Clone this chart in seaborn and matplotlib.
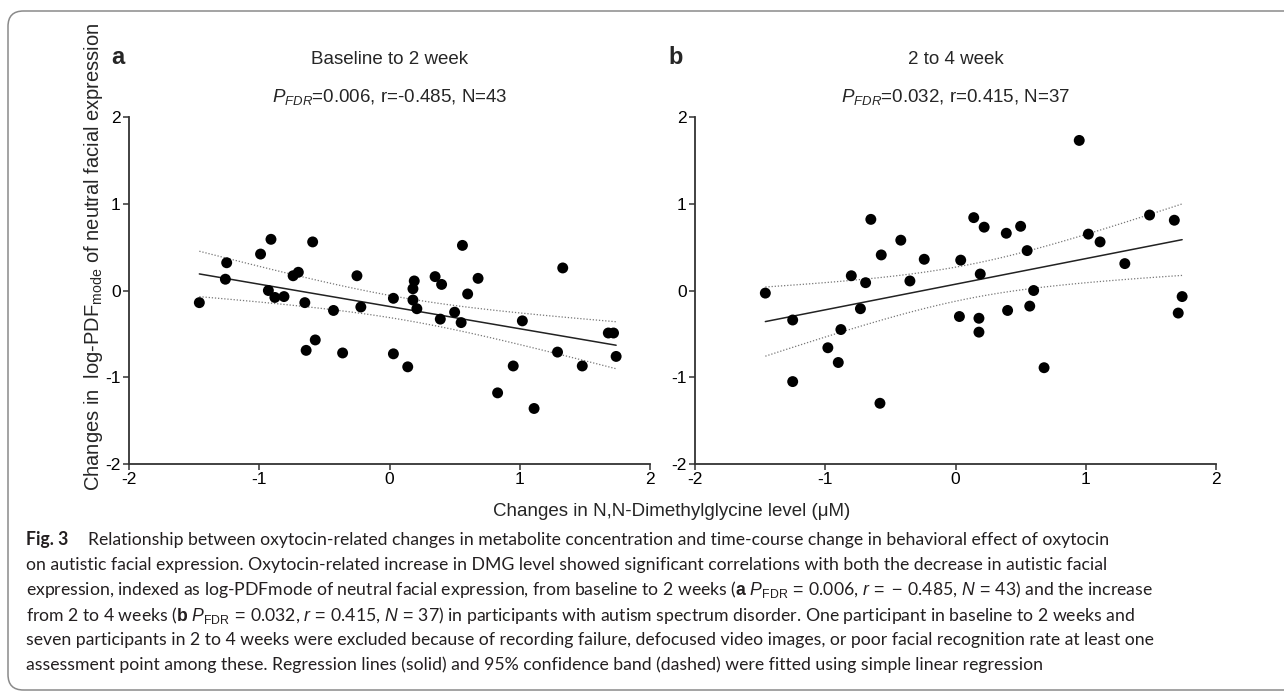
import numpy as np
import matplotlib
matplotlib.use("Agg")
import matplotlib.pyplot as plt
import seaborn as sns
from matplotlib import font_manager
from matplotlib.patches import FancyBboxPatch

# ============================================================
# 데이터
# ============================================================

x_a = [-1.46, -1.25, -1.26, -0.99, -0.91, -0.93, -0.88, -0.81, -0.74, -0.70,
       -0.59, -0.65, -0.64, -0.57, -0.43, -0.36, -0.25, -0.22, 0.03, 0.03,
       0.14, 0.19, 0.18, 0.18, 0.21, 0.35, 0.40, 0.39, 0.56, 0.60,
       0.68, 0.50, 0.55, 0.83, 0.95, 1.02, 1.11, 1.29, 1.33, 1.48,
       1.68, 1.72, 1.74]
y_a = [-0.14, 0.32, 0.13, 0.42, 0.59, 0.00, -0.08, -0.07, 0.17, 0.21,
       0.56, -0.14, -0.69, -0.57, -0.23, -0.72, 0.17, -0.19, -0.09, -0.73,
       -0.88, 0.11, 0.02, -0.11, -0.21, 0.16, 0.07, -0.33, 0.52, -0.04,
       0.14, -0.25, -0.37, -1.18, -0.87, -0.35, -1.36, -0.71, 0.26, -0.87,
       -0.49, -0.49, -0.76]

x_b = [-1.46, -1.25, -1.25, -0.98, -0.90, -0.88, -0.80, -0.73, -0.69, -0.65,
       -0.57, -0.58, -0.42, -0.35, -0.24, 0.04, 0.03, 0.14, 0.22, 0.19,
       0.18, 0.18, 0.39, 0.40, 0.50, 0.55, 0.57, 0.60, 0.68, 0.95,
       1.02, 1.11, 1.30, 1.49, 1.68, 1.71, 1.74]
y_b = [-0.03, -0.34, -1.05, -0.66, -0.83, -0.45, 0.17, -0.21, 0.09, 0.82,
       0.41, -1.30, 0.58, 0.11, 0.36, 0.35, -0.30, 0.84, 0.73, 0.19,
       -0.32, -0.48, 0.66, -0.23, 0.74, 0.46, -0.18, 0.00, -0.89, 1.73,
       0.65, 0.56, 0.31, 0.87, 0.81, -0.26, -0.07]

panel_letters = ["a", "b"]
panel_titles = ["Baseline to 2 week", "2 to 4 week"]
panel_stats = [r"$P_{FDR}$=0.006, r=-0.485, N=43", r"$P_{FDR}$=0.032, r=0.415, N=37"]
t_crit = [2.0195, 2.0301]  # t(0.975, n-2)

ticks = [-2, -1, 0, 1, 2]

x_label = "Changes in N,N-Dimethylglycine level (μM)"
y_label = r"Changes in  log-PDF$_{\mathrm{mode}}$ of neutral facial expression"

# ============================================================
# 기본 설정
# ============================================================

sns.set_theme(style="ticks")
plt.rcParams["font.family"] = ["Liberation Sans", "DejaVu Sans"]
plt.rcParams["axes.unicode_minus"] = False
plt.rcParams["mathtext.fontset"] = "custom"
plt.rcParams["mathtext.rm"] = "Liberation Sans"
plt.rcParams["mathtext.it"] = "Liberation Sans:italic"
plt.rcParams["mathtext.bf"] = "Liberation Sans:bold"

names = {f.name for f in font_manager.fontManager.ttflist}
cap_font = "Liberation Sans Narrow" if "Liberation Sans Narrow" in names else "Lato"
cap_size = 14.3 if cap_font == "Liberation Sans Narrow" else 12.7

W, H = 1284, 695
fig = plt.figure(figsize=(W / 100, H / 100), dpi=100)
fig.patch.set_facecolor("white")


def fx(px):
    return px / W


def fy(py):
    return 1 - py / H


# 바깥 둥근 테두리
fig.patches.append(FancyBboxPatch(
    (fx(8), fy(690)), fx(1320) - fx(8), fy(11) - fy(690),
    boxstyle="round,pad=0,rounding_size=0.012",
    transform=fig.transFigure, facecolor="none",
    edgecolor="#8a8a8a", linewidth=1.1, mutation_aspect=W / H))

axes_left = [129, 695]
ax_w = 521
ax_top, ax_bot = 117, 464

datasets = [(x_a, y_a), (x_b, y_b)]

for i, (xs, ys) in enumerate(datasets):
    ax = fig.add_axes([fx(axes_left[i]), fy(ax_bot), fx(ax_w), (ax_bot - ax_top) / H])
    xs = np.array(xs)
    ys = np.array(ys)

    sns.regplot(x=xs, y=ys, ax=ax, ci=None, truncate=True,
                scatter_kws=dict(s=62, color="black", edgecolor="none", alpha=1, zorder=3),
                line_kws=dict(color="#222222", linewidth=1.1, zorder=2))

    # 95% 신뢰대 (단순 선형회귀)
    n = len(xs)
    slope, intercept = np.polyfit(xs, ys, 1)
    resid = ys - (slope * xs + intercept)
    s_err = np.sqrt(np.sum(resid ** 2) / (n - 2))
    xg = np.linspace(xs.min(), xs.max(), 100)
    yg = slope * xg + intercept
    se = s_err * np.sqrt(1 / n + (xg - xs.mean()) ** 2 / np.sum((xs - xs.mean()) ** 2))
    ax.plot(xg, yg + t_crit[i] * se, color="#777777", linestyle=(0, (1, 1.5)), linewidth=0.9)
    ax.plot(xg, yg - t_crit[i] * se, color="#777777", linestyle=(0, (1, 1.5)), linewidth=0.9)

    ax.set_xlim(-2, 2)
    ax.set_ylim(-2, 2)
    ax.set_xticks(ticks)
    ax.set_yticks(ticks)
    ax.set_xticklabels([str(t) for t in ticks])
    ax.set_yticklabels([str(t) for t in ticks])
    ax.set_xlabel("")
    ax.set_ylabel("")
    ax.set_facecolor("white")
    for side in ["top", "right"]:
        ax.spines[side].set_visible(False)
    for side in ["left", "bottom"]:
        ax.spines[side].set_color("#333333")
        ax.spines[side].set_linewidth(1.3)
    ax.tick_params(axis="both", direction="out", length=4.5, width=1.1,
                   color="#333333", labelsize=12.5, labelcolor="black", pad=1.5)

    cx = axes_left[i] + ax_w / 2
    fig.text(fx(cx), fy(60), panel_titles[i], ha="center", va="center", fontsize=13.5)
    fig.text(fx(cx), fy(97), panel_stats[i], ha="center", va="center", fontsize=13.5)

fig.text(fx(118), fy(57), panel_letters[0], ha="center", va="center",
         fontsize=17, fontweight="bold")
fig.text(fx(676), fy(57), panel_letters[1], ha="center", va="center",
         fontsize=17, fontweight="bold")

fig.text(fx(672), fy(511), x_label, ha="center", va="center", fontsize=13.5)
fig.text(fx(94), fy(257), y_label, ha="center", va="center", rotation=90, fontsize=14.5)

# ============================================================
# 캡션
# ============================================================

cap_color = "#231f20"
cap_lines = [
    "Relationship between oxytocin-related changes in metabolite concentration and time-course change in behavioral effect of oxytocin",
    "on autistic facial expression. Oxytocin-related increase in DMG level showed significant correlations with both the decrease in autistic facial",
    r"expression, indexed as log-PDFmode of neutral facial expression, from baseline to 2 weeks ($\mathbf{a}$ $P_{\mathrm{FDR}}\,=\,$0.006, $r\,=\,-\,$0.485, $N\,=\,$43) and the increase",
    r"from 2 to 4 weeks ($\mathbf{b}$ $P_{\mathrm{FDR}}\,=\,$0.032, $r\,=\,$0.415, $N\,=\,$37) in participants with autism spectrum disorder. One participant in baseline to 2 weeks and",
    "seven participants in 2 to 4 weeks were excluded because of recording failure, defocused video images, or poor facial recognition rate at least one",
    "assessment point among these. Regression lines (solid) and 95% confidence band (dashed) were fitted using simple linear regression",
]
line_y = [540, 565, 590, 615, 640, 665]

fig.text(fx(26), fy(line_y[0]), "Fig. 3", ha="left", va="center",
         fontsize=cap_size, fontweight="bold", family=cap_font, color=cap_color)
for k, line in enumerate(cap_lines):
    x0 = 88 if k == 0 else 26
    fig.text(fx(x0), fy(line_y[k]), line, ha="left", va="center",
             fontsize=cap_size, family=cap_font, color=cap_color)

fig.savefig("out.png", dpi=100, facecolor="white")
